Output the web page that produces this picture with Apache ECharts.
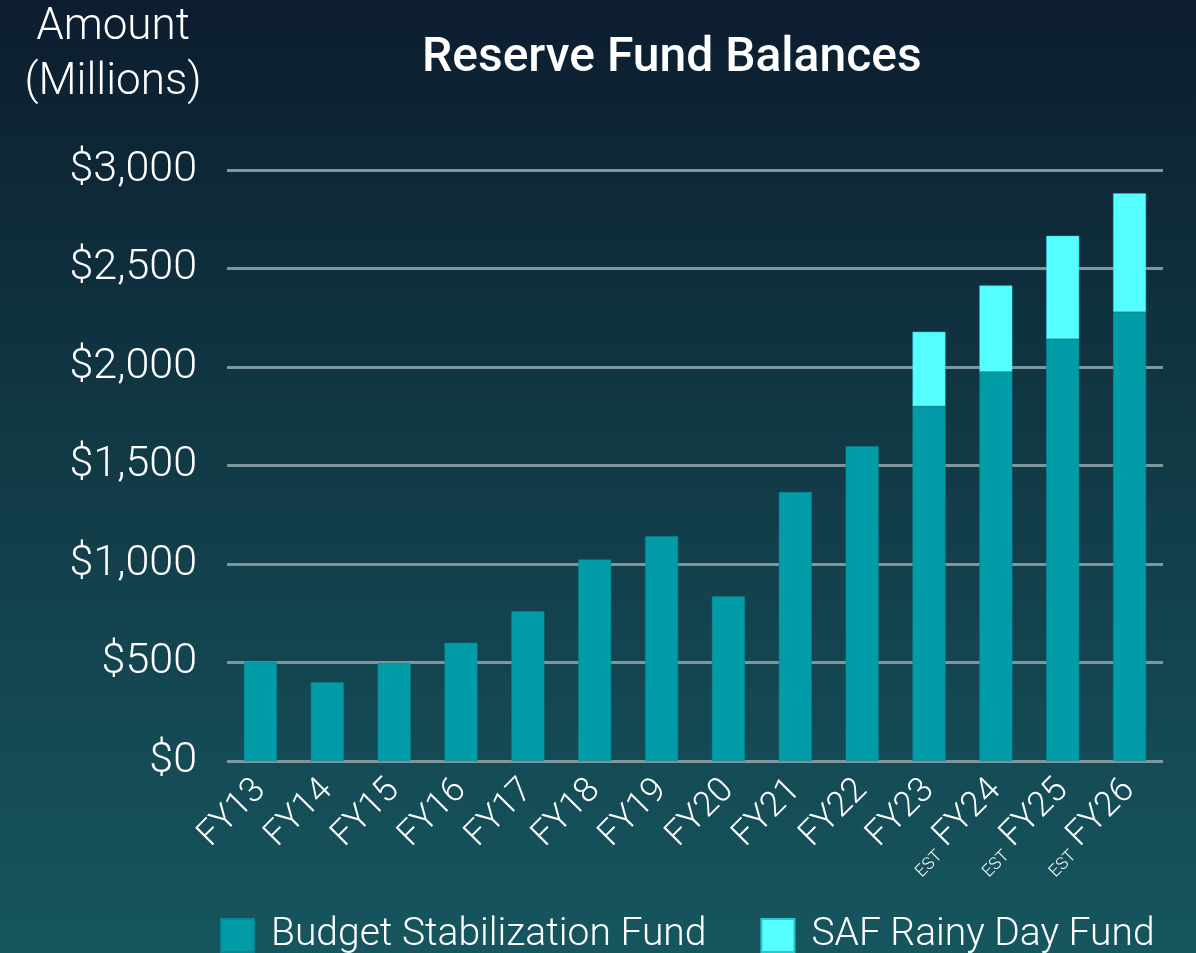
<!DOCTYPE html>
<html>
<head>
<meta charset="utf-8">
<title>Reserve Fund Balances</title>
<script src="https://cdn.jsdelivr.net/npm/echarts@6/dist/echarts.min.js"></script>
<style>
  html, body { margin: 0; padding: 0; }
  #chart { width: 1196px; height: 953px; }
</style>
</head>
<body>
<div id="chart"></div>
<script>
// 年度
const categories = ['FY13', 'FY14', 'FY15', 'FY16', 'FY17', 'FY18', 'FY19', 'FY20', 'FY21', 'FY22', 'FY23', 'FY24', 'FY25', 'FY26']
// 估计年度（标签前加 EST）
const estimated = ['FY24', 'FY25', 'FY26']
// Budget Stabilization Fund（百万美元）
const bsfValues = [505, 400, 497, 600, 760, 1023, 1141, 836, 1365, 1598, 1801, 1976, 2142, 2279]
// SAF Rainy Day Fund（百万美元）
const safValues = [null, null, null, null, null, null, null, null, null, null, 378, 438, 524, 603]
// 纵轴刻度
const yTicks = [0, 500, 1000, 1500, 2000, 2500, 3000]

const font = 'Roboto'

const chart = echarts.init(document.getElementById('chart'))

chart.setOption({
  backgroundColor: {
    type: 'linear', x: 0, y: 0, x2: 0, y2: 1,
    colorStops: [
      { offset: 0, color: '#0c1d2f' },
      { offset: 0.45, color: '#113845' },
      { offset: 1, color: '#16565f' }
    ]
  },
  textStyle: { fontFamily: font },
  title: {
    text: 'Reserve Fund Balances',
    left: 417,
    top: 30,
    textStyle: { color: '#ffffff', fontSize: 48, fontWeight: 500, fontFamily: font }
  },
  graphic: [{
    type: 'text',
    x: 113,
    y: 0,
    style: {
      text: 'Amount\n(Millions)',
      fill: '#ffffff',
      font: '300 44px ' + font,
      textAlign: 'center',
      textVerticalAlign: 'top',
      lineHeight: 55
    }
  }],
  legend: {
    left: 215,
    top: 911,
    itemWidth: 33,
    itemHeight: 33,
    itemGap: 54,
    icon: 'rect',
    textStyle: { color: '#ffffff', fontSize: 39, fontWeight: 300, padding: [0, 0, 0, 12] },
    data: ['Budget Stabilization Fund', 'SAF Rainy Day Fund']
  },
  grid: { left: 227, right: 33, top: 170, bottom: 953 - 761, containLabel: false },
  xAxis: {
    type: 'category',
    data: categories,
    axisLine: { show: false },
    axisTick: { show: false },
    axisLabel: {
      rotate: 45,
      margin: 24,
      color: '#ffffff',
      fontSize: 35,
      fontWeight: 300,
      formatter: v => estimated.includes(v) ? '{est|EST} ' + v : v,
      rich: {
        est: { fontSize: 17, color: '#ffffff', fontWeight: 300, verticalAlign: 'bottom', lineHeight: 17 }
      }
    }
  },
  yAxis: {
    type: 'value',
    min: yTicks[0],
    max: yTicks[yTicks.length - 1],
    interval: 500,
    axisLine: { show: false },
    axisTick: { show: false },
    splitLine: { lineStyle: { color: '#7d979c', width: 3 } },
    axisLabel: {
      margin: 30,
      color: '#ffffff',
      fontSize: 43,
      fontWeight: 300,
      formatter: v => '$' + v.toLocaleString('en-US')
    }
  },
  series: [
    {
      name: 'Budget Stabilization Fund',
      type: 'bar',
      stack: 'total',
      barWidth: 33,
      itemStyle: { color: '#019ca8', borderColor: '#0a8793', borderWidth: 0.5 },
      data: bsfValues
    },
    {
      name: 'SAF Rainy Day Fund',
      type: 'bar',
      stack: 'total',
      barWidth: 33,
      itemStyle: { color: '#55ffff', borderColor: '#2bc9cf', borderWidth: 0.5 },
      data: safValues
    }
  ]
})
</script>
</body>
</html>
